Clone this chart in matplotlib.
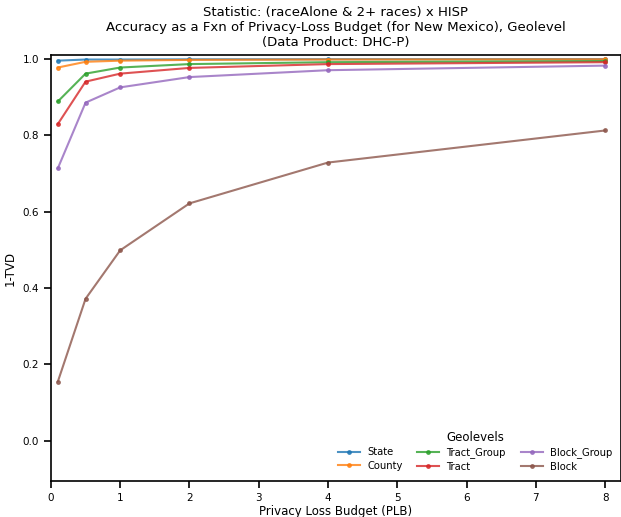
import matplotlib
matplotlib.use("Agg")
import matplotlib.pyplot as plt

plb = [0.1, 0.5, 1, 2, 4, 8]
geolevels = ["State", "County", "Tract_Group", "Tract", "Block_Group", "Block"]
state = [0.996, 0.999, 0.999, 0.9995, 0.9998, 1.0]
county = [0.978, 0.993, 0.996, 0.998, 0.999, 0.9995]
tract_group = [0.889, 0.962, 0.978, 0.987, 0.992, 0.995]
tract = [0.830, 0.941, 0.962, 0.977, 0.987, 0.992]
block_group = [0.714, 0.886, 0.926, 0.953, 0.971, 0.983]
block = [0.155, 0.372, 0.499, 0.622, 0.729, 0.813]
series = [state, county, tract_group, tract, block_group, block]
colors = ["#1f77b4", "#ff7f0e", "#2ca02c", "#d62728", "#9467bd", "#8c564b"]

fig = plt.figure(figsize=(6.21, 5.17), dpi=100)
ax = fig.add_axes([0.082, 0.07, 0.918, 0.823])
for name, vals, c in zip(geolevels, series, colors):
    ax.plot(plb, vals, marker="o", markersize=2.5, linewidth=1.5, color=c, alpha=0.8, label=name)

ax.set_xlim(0, 8.23)
ax.set_ylim(-0.105, 1.01)
ax.set_xticks([0, 1, 2, 3, 4, 5, 6, 7, 8])
ax.set_yticks([0.0, 0.2, 0.4, 0.6, 0.8, 1.0])
ax.tick_params(labelsize=7.5, length=5, width=1.2)
for s in ax.spines.values():
    s.set_linewidth(1.2)
ax.set_xlabel("Privacy Loss Budget (PLB)", fontsize=8.5, labelpad=2)
ax.set_ylabel("1-TVD", fontsize=8.5)
ax.set_title("Statistic: (raceAlone & 2+ races) x HISP\nAccuracy as a Fxn of Privacy-Loss Budget (for New Mexico), Geolevel\n(Data Product: DHC-P)",
             fontsize=9.5, pad=7)
leg = ax.legend(title="Geolevels", ncol=3, loc="lower right", frameon=False, fontsize=7.2,
                title_fontsize=8.5, handlelength=2.2, handletextpad=0.7, columnspacing=1.5,
                borderaxespad=0.5, labelspacing=0.35)
fig.savefig("out.png", dpi=100)
